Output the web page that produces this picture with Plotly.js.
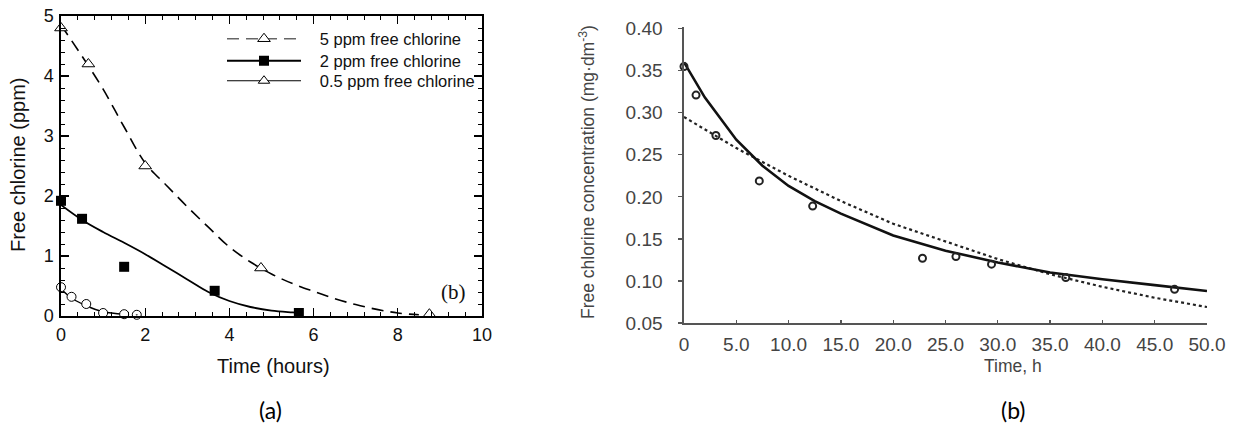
<!DOCTYPE html>
<html><head><meta charset="utf-8">
<script src="https://cdn.plot.ly/plotly-3.0.1.min.js"></script>
<style>html,body{margin:0;padding:0;background:#fff;} #chart{width:1244px;height:427px;}</style>
</head><body><div id="chart"></div>
<script>
// ---------- Panel (a) ----------
const a_t5 = [0, 0.65, 2.0, 4.75, 8.75];
const a_c5 = [4.8, 4.2, 2.5, 0.8, 0.03];
const a_fit5_t = [0, 0.5, 1, 1.5, 2, 2.5, 3, 3.5, 4, 4.5, 5, 5.5, 6, 6.5, 7, 7.5, 8, 8.5];
const a_fit5_c = [4.85, 4.33, 3.78, 3.15, 2.55, 2.18, 1.82, 1.48, 1.15, 0.9, 0.7, 0.54, 0.41, 0.29, 0.19, 0.11, 0.05, 0.02];
const a_t2 = [0, 0.5, 1.5, 3.65, 5.65];
const a_c2 = [1.92, 1.62, 0.82, 0.42, 0.05];
const a_fit2_t = [0, 0.5, 1, 1.5, 2, 2.5, 3, 3.5, 4, 4.5, 5, 5.5, 5.7];
const a_fit2_c = [1.85, 1.6, 1.4, 1.22, 1.03, 0.82, 0.61, 0.4, 0.25, 0.15, 0.09, 0.06, 0.05];
const a_t05 = [0, 0.25, 0.6, 1.0, 1.5, 1.8];
const a_c05 = [0.48, 0.32, 0.2, 0.05, 0.03, 0.02];
const a_sym05 = ['circle', 'circle', 'circle', 'circle', 'circle', 'circle-dot'];
const a_fit05_t = [0, 0.25, 0.6, 1.0, 1.5];
const a_fit05_c = [0.45, 0.3, 0.17, 0.07, 0.03];
const a_names = ['5 ppm free chlorine', '2 ppm free chlorine', '0.5 ppm free chlorine'];

// ---------- Panel (b) ----------
const b_t = [0, 1.15, 3.05, 7.2, 12.3, 22.8, 26.0, 29.4, 36.5, 46.9];
const b_c = [0.355, 0.321, 0.273, 0.219, 0.189, 0.127, 0.129, 0.120, 0.104, 0.090];
const b_fit1_t = [0, 2, 5, 7.5, 10, 12.5, 15, 20, 25, 30, 35, 40, 45, 50];
const b_fit1_c = [0.360, 0.318, 0.268, 0.237, 0.213, 0.195, 0.180, 0.154, 0.136, 0.122, 0.110, 0.102, 0.095, 0.088];
const b_fit2_t = [0, 5, 10, 15, 20, 25, 30, 35, 40, 45, 50];
const b_fit2_c = [0.295, 0.258, 0.225, 0.195, 0.168, 0.147, 0.126, 0.108, 0.093, 0.080, 0.069];
const b_xticks = [0, 5, 10, 15, 20, 25, 30, 35, 40, 45, 50];
const b_xticklabels = ['0', '5.0', '10.0', '15.0', '20.0', '25.0', '30.0', '35.0', '40.0', '45.0', '50.0'];
const b_yticks = [0.05, 0.10, 0.15, 0.20, 0.25, 0.30, 0.35, 0.40];
const b_yticklabels = ['0.05', '0.10', '0.15', '0.20', '0.25', '0.30', '0.35', '0.40'];

const DASH5 = '12px,7px';
const NB = '\u00a0\u00a0\u00a0';
const traces = [
  // panel a curves
  {x: a_fit5_t, y: a_fit5_c, mode: 'lines', line: {color: '#000', width: 1.6, dash: DASH5, shape: 'spline'}, showlegend: false, hoverinfo: 'skip', xaxis: 'x', yaxis: 'y'},
  {x: a_fit2_t, y: a_fit2_c, mode: 'lines', line: {color: '#000', width: 1.8, shape: 'spline'}, showlegend: false, hoverinfo: 'skip', xaxis: 'x', yaxis: 'y'},
  {x: a_fit05_t, y: a_fit05_c, mode: 'lines', line: {color: '#000', width: 1.5, shape: 'spline'}, showlegend: false, hoverinfo: 'skip', xaxis: 'x', yaxis: 'y'},
  // panel a markers
  {x: a_t5, y: a_c5, mode: 'markers', marker: {symbol: 'triangle-up', size: 11, color: '#fff', line: {color: '#000', width: 1}}, showlegend: false, cliponaxis: false, xaxis: 'x', yaxis: 'y'},
  {x: a_t2, y: a_c2, mode: 'markers', marker: {symbol: 'square', size: 10, color: '#000', line: {color: '#000', width: 0}}, showlegend: false, cliponaxis: false, xaxis: 'x', yaxis: 'y'},
  {x: a_t05, y: a_c05, mode: 'markers', marker: {symbol: a_sym05, size: 9, color: '#fff', line: {color: '#000', width: 1}}, showlegend: false, cliponaxis: false, xaxis: 'x', yaxis: 'y'},
  // legend-only entries (one legend box each)
  {x: [null], y: [null], mode: 'lines+markers', name: NB + a_names[0], legend: 'legend', line: {color: '#666', width: 1.5, dash: DASH5}, marker: {symbol: 'triangle-up', size: 11, color: '#fff', line: {color: '#000', width: 1}}, xaxis: 'x', yaxis: 'y'},
  {x: [null], y: [null], mode: 'lines+markers', name: NB + a_names[1], legend: 'legend2', line: {color: '#000', width: 2}, marker: {symbol: 'square', size: 10, color: '#000'}, xaxis: 'x', yaxis: 'y'},
  {x: [null], y: [null], mode: 'lines+markers', name: NB + a_names[2], legend: 'legend3', line: {color: '#000', width: 1.2}, marker: {symbol: 'triangle-up', size: 10, color: '#fff', line: {color: '#000', width: 1}}, xaxis: 'x', yaxis: 'y'},
  // panel b
  {x: b_fit2_t, y: b_fit2_c, mode: 'lines', line: {color: '#222', width: 2.2, dash: 'dot'}, showlegend: false, xaxis: 'x2', yaxis: 'y2'},
  {x: b_fit1_t, y: b_fit1_c, mode: 'lines', line: {color: '#111', width: 2.6}, showlegend: false, xaxis: 'x2', yaxis: 'y2'},
  {x: b_t, y: b_c, mode: 'markers', marker: {symbol: 'circle-open', size: 7, color: '#222', line: {width: 2}}, showlegend: false, cliponaxis: false, xaxis: 'x2', yaxis: 'y2'}
];

const FONT = 'Arial, "Liberation Sans", sans-serif';
function legendAt(yPx) {
  return {x: 222/1244, y: (427 - yPx)/427, xanchor: 'left', yanchor: 'middle', bgcolor: 'rgba(0,0,0,0)',
          font: {size: 16.5, family: FONT, color: '#111'}, itemwidth: 74, tracegroupgap: 0};
}
const layout = {
  width: 1244, height: 427,
  margin: {l: 0, r: 0, t: 0, b: 0},
  paper_bgcolor: '#fff', plot_bgcolor: 'rgba(0,0,0,0)',
  font: {family: FONT, color: '#000'},
  showlegend: true,
  legend: legendAt(39),
  legend2: legendAt(61),
  legend3: legendAt(81),
  xaxis: {domain: [61/1244, 482/1244], range: [0, 10], tick0: 0, dtick: 2, ticks: 'inside', ticklen: 8, tickwidth: 1.3,
          tickcolor: '#000', showline: true, linecolor: '#000', linewidth: 1.6, mirror: 'allticks', showgrid: false,
          zeroline: false, tickfont: {size: 18, color: '#111'}, ticklabelstandoff: 2,
          minor: {dtick: 0.4, tick0: 0, ticklen: 4, ticks: 'inside', tickcolor: '#000', tickwidth: 1, showgrid: false},
          anchor: 'y', fixedrange: true},
  yaxis: {domain: [(427-316)/427, (427-16)/427], range: [0, 5], tick0: 0, dtick: 1, ticks: 'inside', ticklen: 8, tickwidth: 1.3,
          tickcolor: '#000', showline: true, linecolor: '#000', linewidth: 1.6, mirror: 'allticks', showgrid: false,
          zeroline: false, tickfont: {size: 18, color: '#111'}, ticklabelstandoff: 2,
          minor: {dtick: 0.2, tick0: 0, ticklen: 4, ticks: 'inside', tickcolor: '#000', tickwidth: 1, showgrid: false},
          anchor: 'x', fixedrange: true},
  xaxis2: {domain: [684/1244, 1207/1244], range: [0, 50], tickvals: b_xticks, ticktext: b_xticklabels, ticks: 'inside', ticklen: 3,
           tickwidth: 1.2, tickcolor: '#555', showline: true, linecolor: '#555', linewidth: 1.6, showgrid: false, zeroline: false,
           tickfont: {size: 19, color: '#444'}, ticklabelstandoff: 4, anchor: 'y2', fixedrange: true},
  yaxis2: {domain: [(427-323)/427, (427-27)/427], range: [0.05, 0.402], tickvals: b_yticks, ticktext: b_yticklabels, ticks: 'outside', ticklen: 4,
           tickwidth: 1.2, tickcolor: '#555', showline: true, linecolor: '#555', linewidth: 1.6, showgrid: false, zeroline: false,
           tickfont: {size: 19, color: '#444'}, ticklabelstandoff: 12, anchor: 'x2', fixedrange: true},
  annotations: [
    {text: 'Free chlorine (ppm)', x: 18/1244, y: (427-165)/427, xref: 'paper', yref: 'paper', textangle: -90, showarrow: false,
     font: {size: 20, family: FONT, color: '#111'}, xanchor: 'center', yanchor: 'middle'},
    {text: 'Time (hours)', x: 273/1244, y: (427-366)/427, xref: 'paper', yref: 'paper', showarrow: false,
     font: {size: 20, family: FONT, color: '#111'}, xanchor: 'center', yanchor: 'middle'},
    {text: '(b)', x: 453/1244, y: (427-292)/427, xref: 'paper', yref: 'paper', showarrow: false,
     font: {size: 21, family: '"Liberation Serif", "DejaVu Serif", serif', color: '#111'}, xanchor: 'center', yanchor: 'middle'},
    {text: 'Free chlorine concentration (mg·dm<sup>-3</sup>)', x: 587/1244, y: (427-172)/427, xref: 'paper', yref: 'paper', textangle: -90,
     showarrow: false, font: {size: 17.5, family: FONT, color: '#444'}, xanchor: 'center', yanchor: 'middle'},
    {text: 'Time, h', x: 1013/1244, y: (427-366)/427, xref: 'paper', yref: 'paper', showarrow: false,
     font: {size: 17.5, family: FONT, color: '#444'}, xanchor: 'center', yanchor: 'middle'},
    {text: '(a)', x: 270/1244, y: (427-410)/427, xref: 'paper', yref: 'paper', showarrow: false,
     font: {size: 23, family: 'Lato, "Open Sans", sans-serif', color: '#000'}, xanchor: 'center', yanchor: 'middle'},
    {text: '(b)', x: 1013/1244, y: (427-410)/427, xref: 'paper', yref: 'paper', showarrow: false,
     font: {size: 23, family: 'Lato, "Open Sans", sans-serif', color: '#000'}, xanchor: 'center', yanchor: 'middle'}
  ]
};

Plotly.newPlot('chart', traces, layout, {displayModeBar: false, staticPlot: true});
</script>
</body></html>
